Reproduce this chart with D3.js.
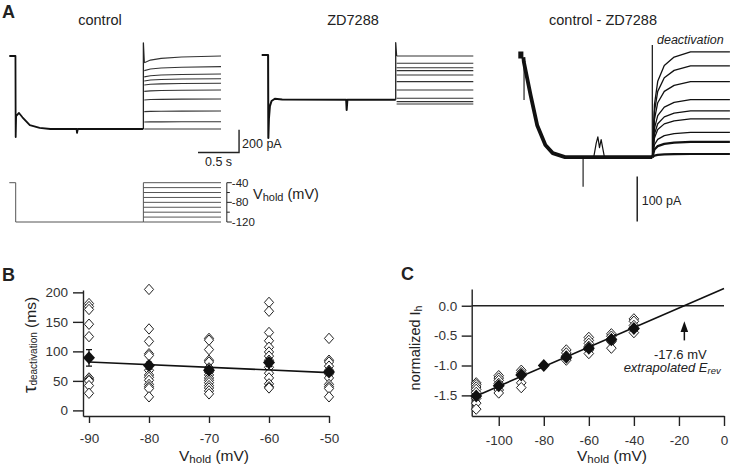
<!DOCTYPE html>
<html>
<head>
<meta charset="utf-8">
<script src="https://cdnjs.cloudflare.com/ajax/libs/d3/7.8.5/d3.min.js"></script>
<style>
body { margin: 0; background: #fff; }
svg { display: block; font-family: "Liberation Sans", Arial, sans-serif; }
</style>
</head>
<body>
<div id="vis"></div>
<script>
// ---- panel A data (time in s, current in pA) ----
let ctrlPreT = [0, 0.075, 0.078, 0.083, 0.118, 0.16, 0.25, 0.37, 0.5, 0.82, 0.825, 0.835, 1.634];
let ctrlPreI = [0, 0, -714, -530, -502, -540, -610, -634, -643, -643, -678, -643, -643];
let ctrlLevels = [0, -94, -159, -200, -240, -300, -379, -485, -579, -643];
let ctrlDip = [-60, -35, -25, -20, -15, -12, -8, -5, -3, 0];
let sweepT = [1.645, 1.72, 1.85, 2.1, 2.58];
let ctrlRelax = [1, 0.6, 0.35, 0.15, 0];
let ctrlSpike = 115;

let zdPreT = [0, 0.078, 0.081, 0.088, 0.1, 0.12, 0.16, 0.25, 1.03, 1.036, 1.045, 1.634];
let zdPreI = [0, 0, -731, -560, -450, -405, -385, -392, -394, -484, -394, -394];
let zdLevels = [-9, -73, -112, -138, -176, -235, -308, -381, -411, -432];
let zdSpike = 108;

let subHoldT = [0, 0.062];
let subPreT = [0.062, 0.068, 0.15, 0.23, 0.33, 0.42, 0.57, 1.634];
let subPreI = [-5, -16, -89, -156, -200, -218, -227, -227];
let subBlipT = [0.92, 0.95, 0.97, 0.99, 1.01, 1.05];
let subBlipI = [-227, -196, -182, -206, -188, -227];
let subBase = -227;
let subLevels = [7, -24, -59, -99, -124, -142, -172, -193, -220];
let subRiseT = [1.636, 1.66, 1.7, 1.78, 1.9, 2.1, 2.58];
let subRise = [0, 0.5, 0.72, 0.87, 0.95, 1, 1];
let subSpike = 22;
let subDownT = [0.07, 0.79];
let subDownI = [-100, -293];

let protSteps = [-40, -50, -60, -70, -80, -90, -100, -110, -120];
let protTicks = [-40, -60, -80, -100, -120];
let protLabels = [-40, -80, -120];

// ---- panel B data (tau in ms) ----
let bV = [-90, -80, -70, -60, -50];
let tau90 = [181, 176, 171, 146, 125, 55, 52, 50, 42, 29];
let tau80 = [205, 138, 117, 96, 93, 68, 60, 56, 51, 44, 40, 37, 23];
let tau70 = [122, 119, 103, 85, 82, 72, 65, 60, 55, 51, 47, 42, 38, 33, 28];
let tau60 = [183, 168, 132, 118, 107, 99, 92, 85, 73, 63, 55, 45, 40, 38];
let tau50 = [122, 85, 82, 75, 68, 62, 55, 44, 40, 37, 23];
let bMean = [89, 76, 68, 81, 65];
let bSem = [14, 6, 5, 7, 5];
let bFitV = [-90, -50];
let bFitTau = [82, 64];

// ---- panel C data (normalized Ih) ----
let cV = [-110, -100, -90, -80, -70, -60, -50, -40];
let c110 = [-1.29, -1.32, -1.36, -1.40, -1.45, -1.55, -1.63, -1.73];
let c100 = [-1.17, -1.21, -1.25, -1.30, -1.41, -1.46];
let c90 = [-1.08, -1.12, -1.15, -1.29, -1.37];
let c80 = [-1.0];
let c70 = [-0.74, -0.79, -0.84, -0.88, -0.91];
let c60 = [-0.53, -0.58, -0.63, -0.68, -0.74, -0.80];
let c50 = [-0.47, -0.51, -0.55, -0.60, -0.71];
let c40 = [-0.22, -0.26, -0.33, -0.39, -0.45];
let cMean = [-1.51, -1.34, -1.16, -1.0, -0.86, -0.71, -0.57, -0.38];
let cFitV = [-110, 0];
let cFitI = [-1.51, 0.29];
let eRev = -17.6;

let width = 730, height = 467;
let ink = '#222';

let svg = d3.select('#vis')
    .append('svg')
    .attr('width', width)
    .attr('height', height)
    .attr('viewBox', [0, 0, width, height].join(' '));

let line = d3.line();

function diamond(cx, cy, rx, ry) {
    return 'M' + cx + ',' + (cy - ry) + 'L' + (cx + rx) + ',' + cy +
        'L' + cx + ',' + (cy + ry) + 'L' + (cx - rx) + ',' + cy + 'Z';
}

function label(x, y, txt, size, opts) {
    opts = opts || {};
    return svg.append('text')
        .attr('x', x).attr('y', y)
        .attr('font-size', size)
        .attr('fill', opts.fill || ink)
        .attr('text-anchor', opts.anchor || 'start')
        .attr('font-weight', opts.bold ? 'bold' : null)
        .attr('font-style', opts.italic ? 'italic' : null)
        .text(txt);
}

// V_hold style label with subscript
function vholdLabel(g, x, y, size, subSize, anchor) {
    let t = g.append('text')
        .attr('x', x).attr('y', y)
        .attr('font-size', size)
        .attr('fill', ink)
        .attr('text-anchor', anchor);
    t.append('tspan').text('V');
    t.append('tspan').attr('font-size', subSize).attr('dy', 2).text('hold');
    t.append('tspan').attr('dy', -2).text(' (mV)');
    return t;
}

// ================= PANEL A =================
label(2, 18, 'A', 18, {bold: true});
label(100, 25, 'control', 14.5, {anchor: 'middle'});
label(353, 25, 'ZD7288', 14.5, {anchor: 'middle'});
label(603, 25, 'control - ZD7288', 14.5, {anchor: 'middle'});

// control traces
let xCtrl = d3.scaleLinear().domain([0, 2.58]).range([9.3, 221]);
let yCtrl = d3.scaleLinear().domain([0, -200]).range([56, 78.7]);
let gCtrl = svg.append('g').attr('fill', 'none').attr('stroke-linejoin', 'round');

ctrlLevels.forEach(function(lvl, i) {
    let pts = sweepT.map(function(t, k) { return [xCtrl(t), yCtrl(lvl + ctrlDip[i] * ctrlRelax[k])]; });
    gCtrl.append('path').attr('d', line(pts)).attr('stroke', '#333').attr('stroke-width', 1.1);
});
gCtrl.append('path')
    .attr('d', line([[xCtrl(1.634), yCtrl(-643)], [xCtrl(1.634), yCtrl(ctrlSpike)],
        [xCtrl(1.645), yCtrl(ctrlLevels[0] + ctrlDip[0])]]))
    .attr('stroke', '#222').attr('stroke-width', 1.3);
gCtrl.append('path')
    .attr('d', line(ctrlPreT.map(function(t, k) { return [xCtrl(t), yCtrl(ctrlPreI[k])]; })))
    .attr('stroke', '#111').attr('stroke-width', 1.8);

// control scale bar: 200 pA / 0.5 s
svg.append('path')
    .attr('d', line([[xCtrl(2.3), yCtrl(-850)], [xCtrl(2.8), yCtrl(-850)], [xCtrl(2.8), yCtrl(-650)]]))
    .attr('fill', 'none').attr('stroke', ink).attr('stroke-width', 1.4);
label(xCtrl(2.8) + 3, 147.5, '200 pA', 12.5);
label(xCtrl(2.55), 166, '0.5 s', 12.5, {anchor: 'middle'});

// voltage protocol
let yProt = d3.scaleLinear().domain([-40, -120]).range([182.7, 222]);
let gProt = svg.append('g').attr('fill', 'none').attr('stroke', '#555').attr('stroke-width', 1);
gProt.append('path').attr('d', line([[xCtrl(0), yProt(-40)], [xCtrl(0.078), yProt(-40)],
    [xCtrl(0.078), yProt(-120)], [xCtrl(1.634), yProt(-120)]]));
protSteps.forEach(function(v) {
    gProt.append('path').attr('d', line([[xCtrl(1.634), yProt(v)], [xCtrl(2.58), yProt(v)]]));
});
gProt.append('path').attr('d', line([[xCtrl(1.634), yProt(-40)], [xCtrl(1.634), yProt(-120)]]));

let protX = xCtrl(2.651);
gProt.append('path').attr('d', line([[protX, yProt(-40)], [protX, yProt(-120)]])).attr('stroke', ink);
protTicks.forEach(function(v) {
    let len = protLabels.indexOf(v) >= 0 ? 5 : 3;
    gProt.append('path').attr('d', line([[protX, yProt(v)], [protX + len, yProt(v)]])).attr('stroke', ink);
});
protLabels.forEach(function(v) {
    label(protX + 5, yProt(v) + 4, String(v), 11.5);
});
vholdLabel(svg, 253, 199, 14.5, 11, 'start');

// ZD7288 traces
let xZd = d3.scaleLinear().domain([0, 2.58]).range([261.7, 473.3]);
let yZd = d3.scaleLinear().domain([0, -200]).range([55, 77.7]);
let gZd = svg.append('g').attr('fill', 'none').attr('stroke-linejoin', 'round');
zdLevels.forEach(function(lvl) {
    gZd.append('path').attr('d', line([[xZd(1.645), yZd(lvl)], [xZd(2.58), yZd(lvl)]]))
        .attr('stroke', '#333').attr('stroke-width', 1.1);
});
gZd.append('path')
    .attr('d', line([[xZd(1.634), yZd(-394)], [xZd(1.634), yZd(zdSpike)], [xZd(1.645), yZd(zdLevels[0])]]))
    .attr('stroke', '#222').attr('stroke-width', 1.3);
gZd.append('path')
    .attr('d', line(zdPreT.map(function(t, k) { return [xZd(t), yZd(zdPreI[k])]; })))
    .attr('stroke', '#111').attr('stroke-width', 2);

// control - ZD7288 traces (overlaid sweeps drawn as a thick band)
let xSub = d3.scaleLinear().domain([0, 2.58]).range([518.3, 729.9]);
let ySub = d3.scaleLinear().domain([0, -100]).range([55, 100]);
let gSub = svg.append('g').attr('fill', 'none').attr('stroke-linejoin', 'round');
gSub.append('path')
    .attr('d', line(subHoldT.map(function(t) { return [xSub(t), ySub(0)]; })))
    .attr('stroke', '#111').attr('stroke-width', 7);
gSub.append('path')
    .attr('d', line(subPreT.map(function(t, k) { return [xSub(t), ySub(subPreI[k])]; })))
    .attr('stroke', '#111').attr('stroke-width', 3.8);
gSub.append('path')
    .attr('d', line(subBlipT.map(function(t, k) { return [xSub(t), ySub(subBlipI[k])]; })))
    .attr('stroke', '#111').attr('stroke-width', 1.2);
subDownT.forEach(function(t, k) {
    gSub.append('path')
        .attr('d', line([[xSub(t), ySub(k === 0 ? -16 : subBase)], [xSub(t), ySub(subDownI[k])]]))
        .attr('stroke', '#111').attr('stroke-width', 1.1);
});
gSub.append('path')
    .attr('d', line([[xSub(1.634), ySub(subBase)], [xSub(1.634), ySub(subSpike)]]))
    .attr('stroke', '#111').attr('stroke-width', 1.2);
subLevels.forEach(function(lvl, i) {
    let pts = subRiseT.map(function(t, k) { return [xSub(t), ySub(subBase + (lvl - subBase) * subRise[k])]; });
    gSub.append('path').attr('d', line(pts))
        .attr('stroke', '#111').attr('stroke-width', i >= 7 ? 2.2 : 1.3);
});
label(657, 44, 'deactivation', 12.5, {italic: true});

// 100 pA scale bar
svg.append('path')
    .attr('d', line([[xSub(1.45), ySub(-270)], [xSub(1.45), ySub(-370)]]))
    .attr('stroke', ink).attr('stroke-width', 1.5);
label(xSub(1.45) + 4.5, 205, '100 pA', 12.5);

// ================= PANEL B =================
label(2, 281, 'B', 18, {bold: true});
let xB = d3.scaleLinear().domain([-91, -50]).range([83, 329]);
let yB = d3.scaleLinear().domain([-9.5, 204]).range([416, 290]);

let axB = svg.append('g').attr('transform', 'translate(0,416)')
    .call(d3.axisBottom(xB).tickValues(bV).tickSize(7).tickSizeOuter(0).tickPadding(10));
let ayB = svg.append('g').attr('transform', 'translate(83,0)')
    .call(d3.axisLeft(yB).tickValues([0, 50, 100, 150, 200]).tickSize(10).tickSizeOuter(0).tickPadding(5));

[axB, ayB].forEach(function(a) {
    a.selectAll('path, line').attr('stroke', ink).attr('stroke-width', 1.4);
    a.selectAll('text').attr('font-size', 13.5).attr('fill', '#333')
        .attr('font-family', '"Liberation Sans", Arial, sans-serif');
});

let tauCols = [tau90, tau80, tau70, tau60, tau50];
let gB = svg.append('g');
tauCols.forEach(function(col, i) {
    col.forEach(function(v) {
        gB.append('path').attr('d', diamond(xB(bV[i]), yB(v), 4.6, 5.2))
            .attr('fill', '#fff').attr('stroke', '#222').attr('stroke-width', 1);
    });
});
gB.append('path')
    .attr('d', line(bFitV.map(function(v, k) { return [xB(v), yB(bFitTau[k])]; })))
    .attr('stroke', '#111').attr('stroke-width', 1.6).attr('fill', 'none');
bMean.forEach(function(m, i) {
    let x = xB(bV[i]);
    gB.append('path')
        .attr('d', 'M' + x + ',' + yB(m - bSem[i]) + 'V' + yB(m + bSem[i]) +
            'M' + (x - 3) + ',' + yB(m - bSem[i]) + 'H' + (x + 3) +
            'M' + (x - 3) + ',' + yB(m + bSem[i]) + 'H' + (x + 3))
        .attr('stroke', '#111').attr('stroke-width', 1.2).attr('fill', 'none');
    gB.append('path').attr('d', diamond(x, yB(m), 6, 6.5)).attr('fill', '#111');
});

vholdLabel(svg, 214, 461, 15.5, 11.5, 'middle');
let tauLab = svg.append('text')
    .attr('transform', 'translate(36,345) rotate(-90)')
    .attr('text-anchor', 'middle').attr('fill', ink);
tauLab.append('tspan').attr('font-size', 19).text('τ');
tauLab.append('tspan').attr('font-size', 10).attr('dy', 1).text('deactivation');
tauLab.append('tspan').attr('font-size', 15.5).attr('dy', -1).text(' (ms)');

// ================= PANEL C =================
label(401, 280, 'C', 18, {bold: true});
let xC = d3.scaleLinear().domain([-112, 0]).range([471.7, 724]);
let yC = d3.scaleLinear().domain([-1.845, 0.28]).range([416, 289]);

let axC = svg.append('g').attr('transform', 'translate(0,416)')
    .call(d3.axisBottom(xC).tickValues([-100, -80, -60, -40, -20, 0]).tickSize(10).tickSizeOuter(0).tickPadding(9));
let ayC = svg.append('g').attr('transform', 'translate(471.7,0)')
    .call(d3.axisLeft(yC).tickValues([0, -0.5, -1.0, -1.5]).tickSize(10).tickSizeOuter(0).tickPadding(4.5)
        .tickFormat(d3.format('.1f')));
[axC, ayC].forEach(function(a) {
    a.selectAll('path, line').attr('stroke', ink).attr('stroke-width', 1.4);
    a.selectAll('text').attr('font-size', 13.5).attr('fill', '#333')
        .attr('font-family', '"Liberation Sans", Arial, sans-serif');
});
ayC.selectAll('text').text(function(d) { return d3.format('.1f')(d).replace('−', '-'); });
axC.selectAll('text').text(function(d) { return String(d); });
axB.selectAll('text').text(function(d) { return String(d); });

svg.append('path')
    .attr('d', line([[xC(-112), yC(0)], [xC(0), yC(0)]]))
    .attr('stroke', ink).attr('stroke-width', 1.4);

let cCols = [c110, c100, c90, c80, c70, c60, c50, c40];
let gC = svg.append('g');
cCols.forEach(function(col, i) {
    col.forEach(function(v) {
        gC.append('path').attr('d', diamond(xC(cV[i]), yC(v), 4.8, 5.2))
            .attr('fill', '#fff').attr('stroke', '#222').attr('stroke-width', 1);
    });
});
cMean.forEach(function(m, i) {
    gC.append('path').attr('d', diamond(xC(cV[i]), yC(m), 6, 6.5)).attr('fill', '#111');
});
gC.append('path')
    .attr('d', line(cFitV.map(function(v, k) { return [xC(v), yC(cFitI[k])]; })))
    .attr('stroke', '#111').attr('stroke-width', 1.6).attr('fill', 'none');

// arrow at extrapolated reversal potential
let ax = xC(eRev);
svg.append('path')
    .attr('d', line([[ax, yC(-0.58)], [ax, yC(-0.4)]]))
    .attr('stroke', '#111').attr('stroke-width', 1.5);
svg.append('path')
    .attr('d', 'M' + ax + ',' + yC(-0.26) + 'L' + (ax + 3.8) + ',' + yC(-0.44) +
        'L' + (ax - 3.8) + ',' + yC(-0.44) + 'Z')
    .attr('fill', '#111');
label(ax - 4, 358.5, eRev + ' mV', 13, {anchor: 'middle'});
let erevLab = svg.append('text')
    .attr('x', 720.7).attr('y', 372)
    .attr('font-size', 13).attr('font-style', 'italic')
    .attr('text-anchor', 'end').attr('fill', ink);
erevLab.append('tspan').text('extrapolated E');
erevLab.append('tspan').attr('font-size', 9.5).attr('dy', 2).text('rev');

vholdLabel(svg, 612, 461, 15.5, 11.5, 'middle');
let ihLab = svg.append('text')
    .attr('transform', 'translate(420,348) rotate(-90)')
    .attr('text-anchor', 'middle').attr('fill', ink).attr('font-size', 14.5);
ihLab.append('tspan').text('normalized I');
ihLab.append('tspan').attr('font-size', 10.5).attr('dy', 2).text('h');
</script>
</body>
</html>
